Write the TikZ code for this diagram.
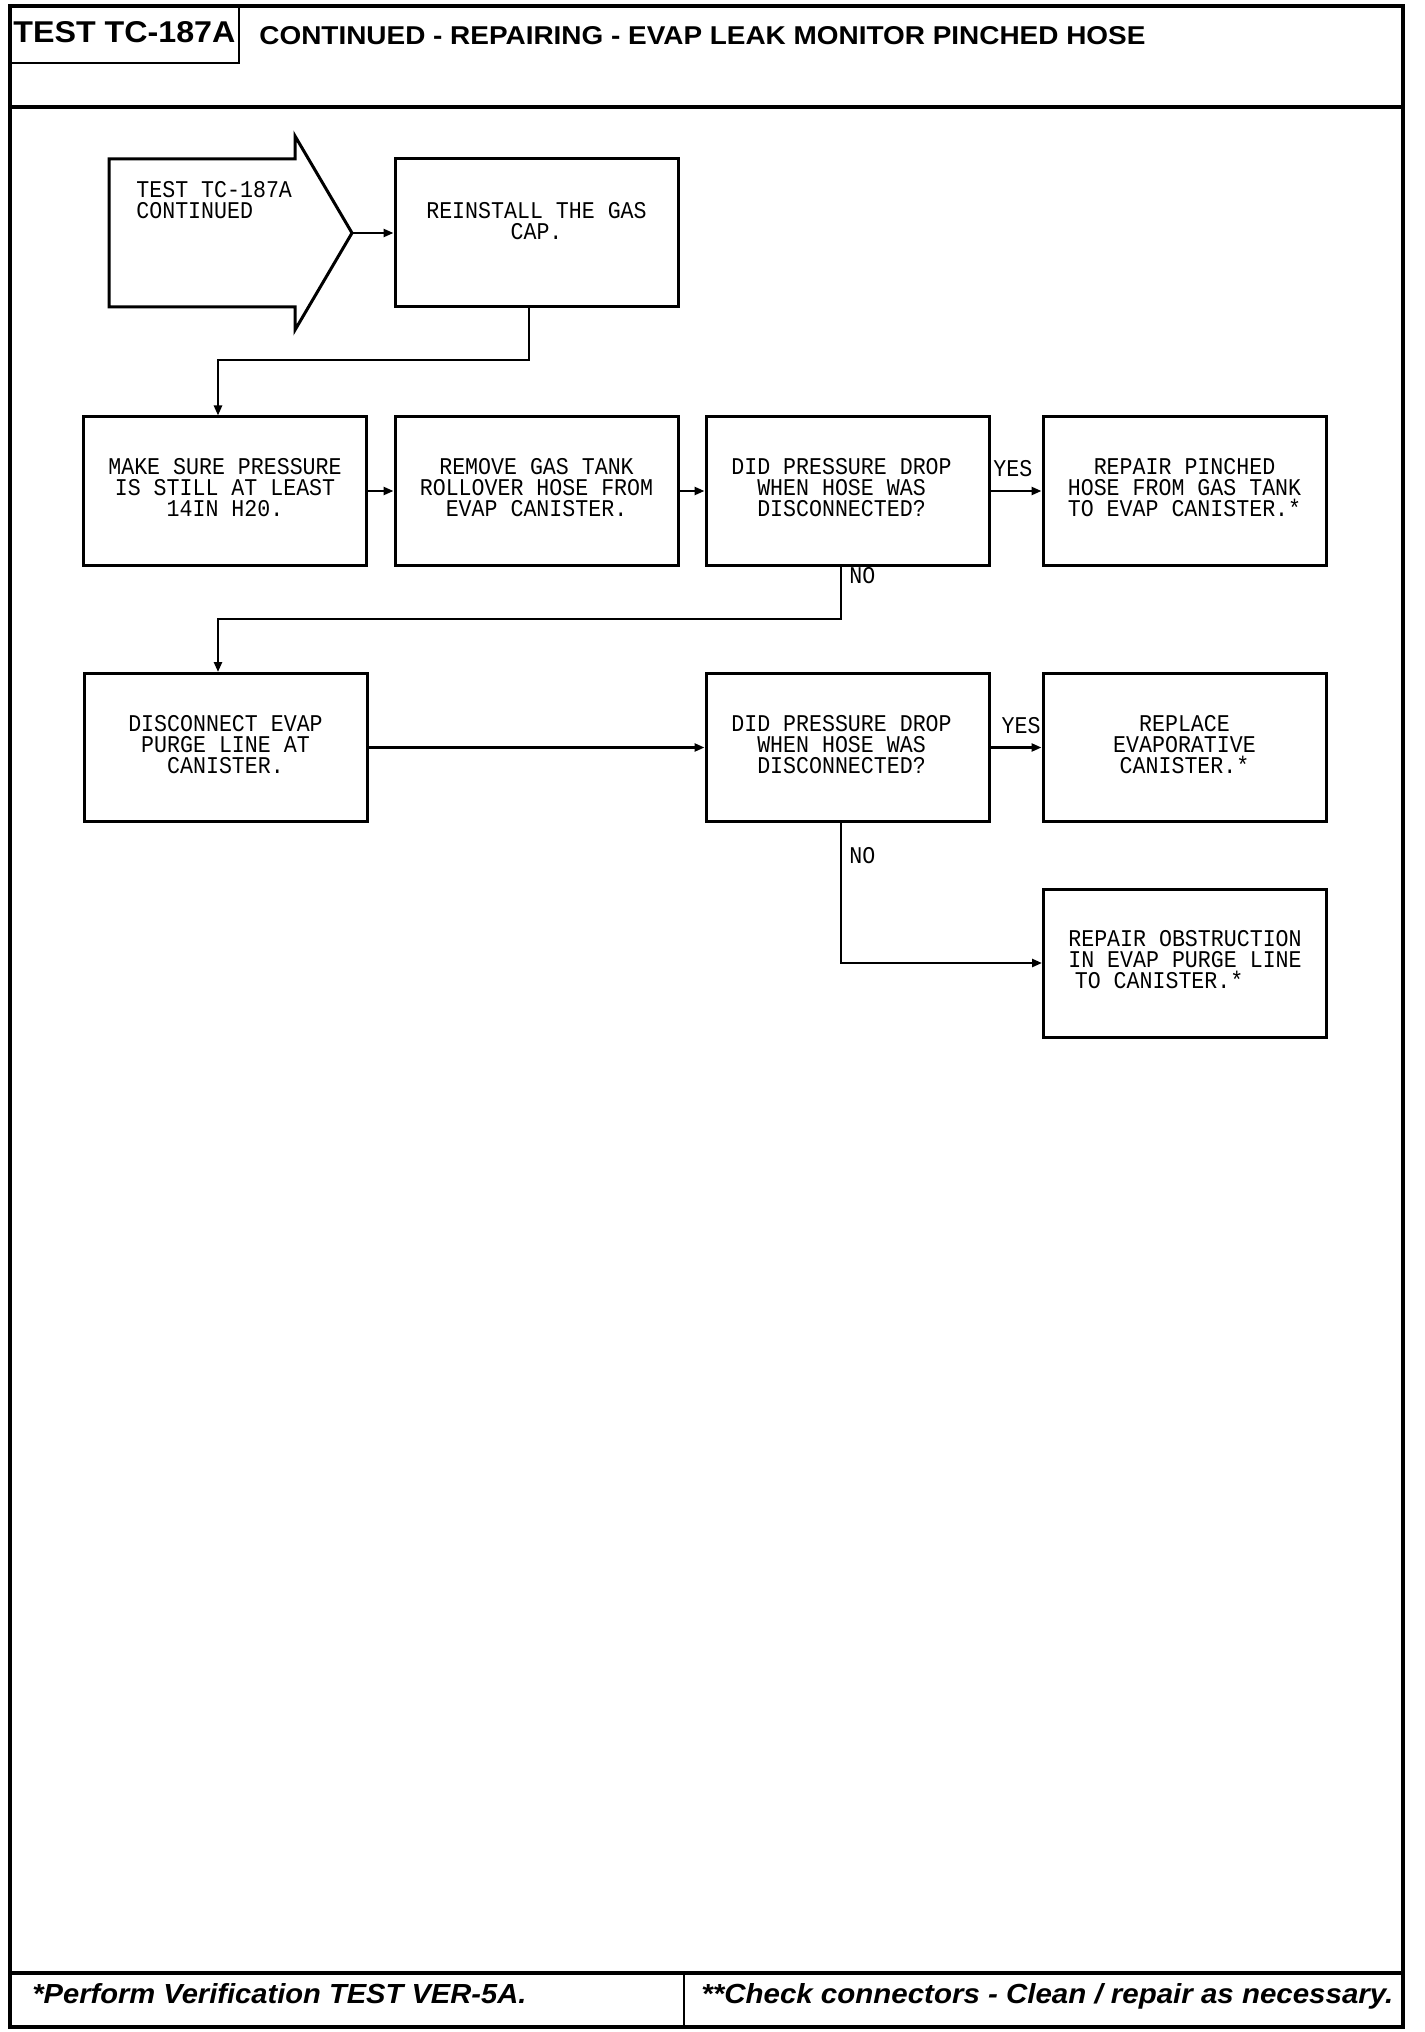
\documentclass[tikz,border=0pt]{standalone}
\usepackage{fontspec}
\usepackage{graphicx}
\setmainfont{Liberation Sans}
\newfontfamily\plotfont[FakeStretch=0.9]{Liberation Mono}
\usetikzlibrary{arrows.meta,calc}
\begin{document}
\begin{tikzpicture}[x=0.5pt,y=-0.5pt,
  frame/.style={line width=1.6pt},
  stepbox/.style={draw,line width=1.5pt,minimum width=141.5pt,minimum height=74pt,inner sep=0pt},
  btext/.style={anchor=north,inner sep=0pt,align=center,font=\plotfont\fontsize{12}{10.5}\selectfont},
  lbl/.style={inner sep=0pt,font=\plotfont\fontsize{12}{10.5}\selectfont},
  conn/.style={line width=1.2pt,-{Triangle[length=5pt,width=4pt]}}]
\useasboundingbox (0,0) rectangle (1424,2032);
% frame
\draw[frame] (10,6) rectangle (1403,2027);
\draw[frame] (10,107) -- (1403,107);
\draw[line width=1.1pt] (10,63) -- (239,63) -- (239,6);
\draw[frame] (10,1973) -- (1403,1973);
\draw[line width=1.1pt] (684,1973) -- (684,2027);
\node[anchor=base west,inner sep=0pt] (title) at (13,43) {\resizebox{111pt}{10.5pt}{\bfseries TEST TC-187A}};
\node[anchor=base west,inner sep=0pt] (head) at (259,45) {\resizebox{443pt}{9pt}{\bfseries CONTINUED - REPAIRING - EVAP LEAK MONITOR PINCHED HOSE}};
\node[anchor=base west,inner sep=0pt] (foot1) at (32,2003) {\resizebox{247pt}{10pt}{\bfseries\itshape *Perform Verification TEST VER-5A.}};
\node[anchor=base west,inner sep=0pt] (foot2) at (701,2003) {\resizebox{346pt}{10pt}{\bfseries\itshape **Check connectors - Clean / repair as necessary.}};
% start arrow
\draw[line width=1.5pt,line join=miter] (109,159) -- (295,159) -- (295,136) -- (352,233) -- (295,330) -- (295,307) -- (109,307) -- cycle;
\coordinate (tip) at (352,233);
\node[anchor=north west,inner sep=0pt,align=left,font=\plotfont\fontsize{12}{10.5}\selectfont] (tstart) at (136,181) {TEST TC-187A\\CONTINUED};
% boxes
\node[stepbox] (reinstall) at (536.5,233) {};
\node[stepbox] (b1) at (225,491) {};
\node[stepbox] (b2) at (536.5,491) {};
\node[stepbox] (b3) at (847.5,491) {};
\node[stepbox] (b4) at (1184.5,491) {};
\node[stepbox] (b5) at (225.5,747.5) {};
\node[stepbox] (b6) at (847.5,747.5) {};
\node[stepbox] (b7) at (1184.5,747.5) {};
\node[stepbox] (b8) at (1185,963) {};
% texts
\node[btext] (treinstall) at ($(reinstall.north)+(0,45)$) {REINSTALL THE GAS\\CAP.};
\node[btext] (t1) at ($(b1.north)+(0,43)$) {MAKE SURE PRESSURE\\IS STILL AT LEAST\\14IN H20.};
\node[btext] (t2) at ($(b2.north)+(0,43)$) {REMOVE GAS TANK\\ROLLOVER HOSE FROM\\EVAP CANISTER.};
\node[btext] (t3) at ($(b3.north)+(-6,43)$) {DID PRESSURE DROP\\WHEN HOSE WAS\\DISCONNECTED?};
\node[btext] (t4) at ($(b4.north)+(0,43)$) {REPAIR PINCHED\\HOSE FROM GAS TANK\\TO EVAP CANISTER.*};
\node[btext] (t5) at ($(b5.north)+(0,43)$) {DISCONNECT EVAP\\PURGE LINE AT\\CANISTER.};
\node[btext] (t6) at ($(b6.north)+(-6,43)$) {DID PRESSURE DROP\\WHEN HOSE WAS\\DISCONNECTED?};
\node[btext] (t7) at ($(b7.north)+(0,43)$) {REPLACE\\EVAPORATIVE\\CANISTER.*};
\node[btext] (t8) at ($(b8.north)+(0,43)$) {REPAIR OBSTRUCTION\\IN EVAP PURGE LINE\\TO CANISTER.*\phantom{XXXX}};
% connectors
\coordinate (j1) at (218,360);
\coordinate (j2) at (218,619);
\draw[conn] (tip) -- (reinstall.west);
\draw[conn] ([xshift=-3.75pt]reinstall.south) |- (j1) -- ([xshift=-3.5pt]b1.north);
\draw[conn] (b1.east) -- (b2.west);
\draw[conn] (b2.east) -- (b3.west);
\draw[conn] (b3.east) -- (b4.west);
\draw[conn] ([xshift=-3.25pt]b3.south) |- (j2) -- ([xshift=-3.75pt]b5.north);
\draw[conn] (b5.east) -- (b6.west);
\draw[conn] (b6.east) -- (b7.west);
\draw[conn] ([xshift=-3.25pt]b6.south) |- (b8.west);
% labels
\node[lbl,anchor=base west] (yes1) at (993,476) {YES};
\node[lbl,anchor=base west] (no1) at (849,583) {NO};
\node[lbl,anchor=base east] (yes2) at (1041,733) {YES};
\node[lbl,anchor=base west] (no2) at (849,863) {NO};
\end{tikzpicture}
\end{document}
